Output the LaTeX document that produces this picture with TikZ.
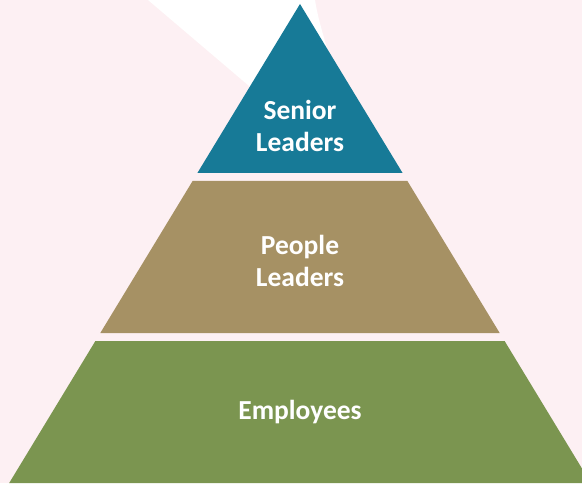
\documentclass[tikz,border=0pt]{standalone}
\usepackage{fontspec}
\setmainfont{Carlito}
\definecolor{bgpink}{HTML}{FDF0F3}
\definecolor{tealtier}{HTML}{177A97}
\definecolor{tantier}{HTML}{A69164}
\definecolor{greentier}{HTML}{7B9550}
\tikzset{
  tier/.style={draw=none},
  tierlabel/.style={text=white, font=\fontsize{27.5}{32}\selectfont\bfseries, align=center, inner sep=0pt}
}
\begin{document}
\begin{tikzpicture}[x=1pt,y=1pt]
  % canvas
  \fill[bgpink] (0,0) rectangle (582,483);
  \useasboundingbox (0,0) rectangle (582,483);
  \clip (0,0) rectangle (582,483);
  % white wedge behind the apex
  \fill[white] (148,483) -- (262,386) -- (320,400) -- (327,435)
    .. controls (321,455) and (317,470) .. (315,483) -- cycle;
  % pyramid tiers
  \fill[tier, tealtier] (300,479) -- (402.6,310) -- (197.4,310) -- cycle;
  \fill[tier, tantier] (192.6,302) -- (407.4,302) -- (499.7,150) -- (100.3,150) -- cycle;
  \fill[tier, greentier] (95.4,142) -- (504.6,142) -- (590.8,0) -- (9.2,0) -- cycle;
  % labels
  \node[tierlabel] (senior) at (300,357) {Senior\\Leaders};
  \node[tierlabel] (people) at (300,222) {People\\Leaders};
  \node[tierlabel] (employees) at (300,71) {Employees};
\end{tikzpicture}
\end{document}
